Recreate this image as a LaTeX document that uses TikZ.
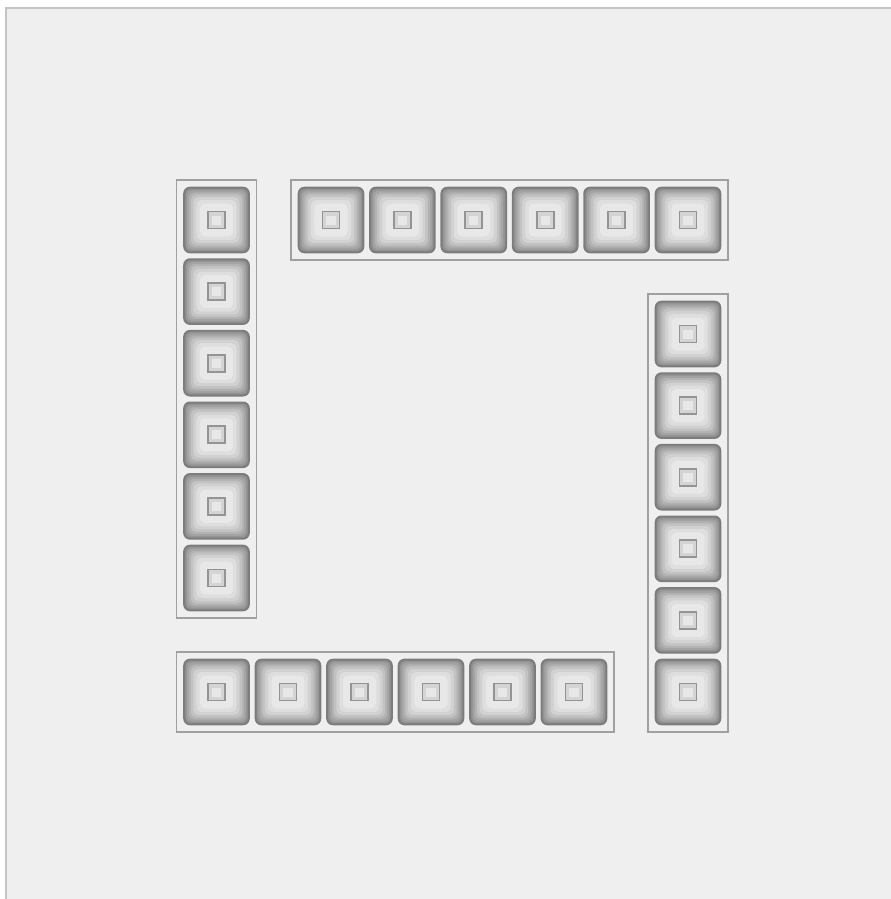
\documentclass[tikz,border=0pt]{standalone}
\usepackage{xcolor}
\usepackage{tikz}
\usetikzlibrary{fit}

\begin{document}
\begin{tikzpicture}[x=0.01cm,y=-0.01cm]
\definecolor{dieBack}{HTML}{EFEFEF}
\definecolor{dieFrame}{HTML}{C4C4C4}
\definecolor{padEdge}{HTML}{7C7C7C}
\definecolor{rowLine}{HTML}{A0A0A0}
\tikzset{
	pad/.style={minimum size=0.65cm,inner sep=0pt,draw=padEdge,line width=0.45pt,
		rounded corners=0.06cm,fill=black!48,
		path picture={
			\foreach \d/\c in {0.015/42,0.03/36,0.05/30,0.07/24,0.095/18,0.125/13,0.16/9} {
				\fill[black!\c,rounded corners=0.05cm]
					([xshift=\d cm,yshift=-\d cm]path picture bounding box.north west) rectangle
					([xshift=-\d cm,yshift=\d cm]path picture bounding box.south east);
			}
			\draw[black!42,fill=black!17,line width=0.5pt,sharp corners]
				([xshift=-0.085cm,yshift=-0.085cm]path picture bounding box.center) rectangle
				([xshift=0.085cm,yshift=0.085cm]path picture bounding box.center);
			\fill[black!9,sharp corners]
				([xshift=-0.045cm,yshift=-0.045cm]path picture bounding box.center) rectangle
				([xshift=0.045cm,yshift=0.045cm]path picture bounding box.center);
		}},
	padrow/.style={draw=rowLine,line width=0.4pt,inner sep=0.065cm}
}

\useasboundingbox (0,0) rectangle (891,899);
\clip (0,0) rectangle (891,899);
\fill[white] (0,0) rectangle (891,899);
\draw[dieFrame,fill=dieBack,line width=0.7pt] (6,8) rectangle (905,915);

% left column
\foreach \i/\yy in {1/220,2/291.6,3/363.2,4/434.8,5/506.4,6/578}
	\node[pad] (left\i) at (216.5,\yy) {};
\node[padrow,fit=(left1)(left6)] (leftrow) {};

% top row
\foreach \i/\xx in {1/331,2/402.4,3/473.8,4/545.2,5/616.6,6/688}
	\node[pad] (top\i) at (\xx,220) {};
\node[padrow,fit=(top1)(top6)] (toprow) {};

% right column
\foreach \i/\yy in {1/334,2/405.6,3/477.2,4/548.8,5/620.4,6/692}
	\node[pad] (right\i) at (688,\yy) {};
\node[padrow,fit=(right1)(right6)] (rightrow) {};

% bottom row
\foreach \i/\xx in {1/216.5,2/288,3/359.5,4/431,5/502.5,6/574}
	\node[pad] (bottom\i) at (\xx,692) {};
\node[padrow,fit=(bottom1)(bottom6)] (bottomrow) {};
\end{tikzpicture}
\end{document}
